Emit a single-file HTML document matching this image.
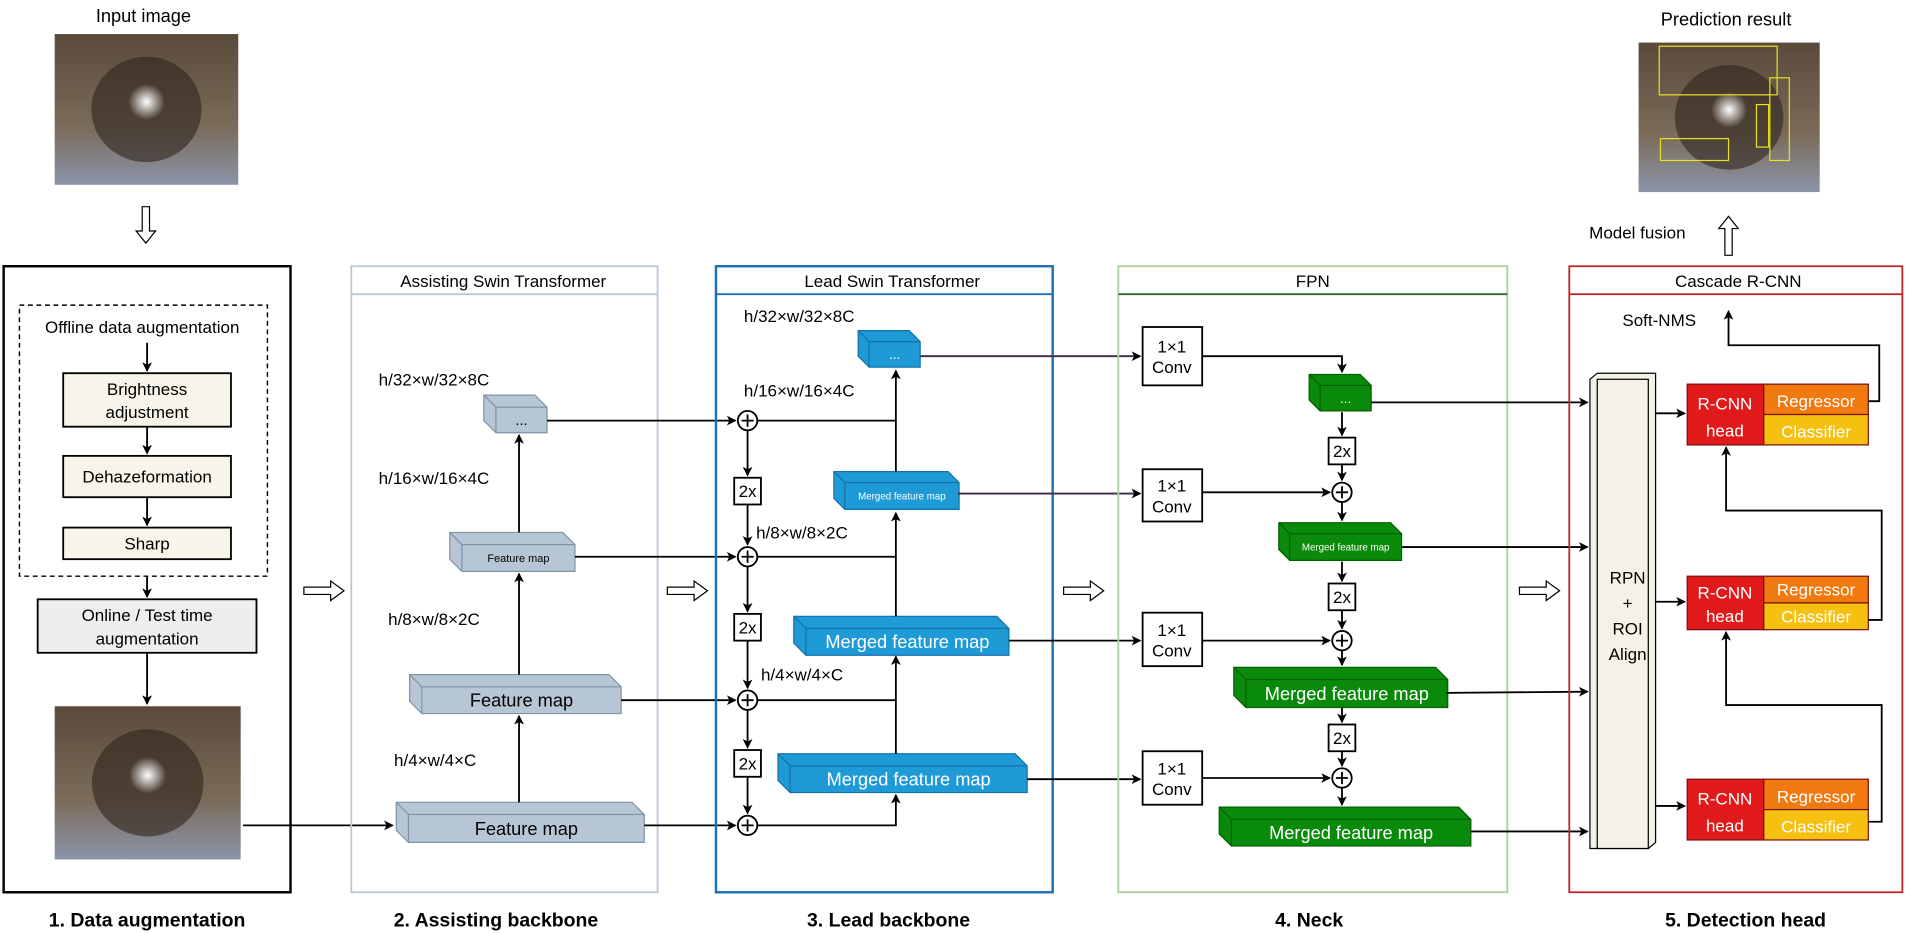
<!DOCTYPE html>
<html><head><meta charset="utf-8"><style>
html,body{margin:0;padding:0;background:#fff;overflow:hidden;}
svg{display:block;font-family:"Liberation Sans",Arial,sans-serif;}
</style></head><body>
<svg id="s" width="1906" height="933" viewBox="0 0 1568 767.5" xmlns="http://www.w3.org/2000/svg">
<defs>
<marker id="a" markerWidth="8" markerHeight="8" refX="7" refY="4" orient="auto" markerUnits="userSpaceOnUse"><path d="M0,0 L8,4 L0,8 L2,4 z" fill="#000"/></marker>
<linearGradient id="img" x1="0" y1="0" x2="0" y2="1"><stop offset="0" stop-color="#5a4a3a"/><stop offset="0.6" stop-color="#7a6a58"/><stop offset="1" stop-color="#8a94a8"/></linearGradient>
<radialGradient id="glow" cx="0.5" cy="0.5" r="0.5"><stop offset="0" stop-color="#fff"/><stop offset="1" stop-color="#fff" stop-opacity="0"/></radialGradient>
</defs>
<g id="g" fill="none" stroke="#000" stroke-width="1.5"></g>
</svg>
<script>
const g=document.getElementById('g');let h='';
const L=(pts,arrow,col)=>{h+=`<polyline points="${pts}" stroke="${col||'#000'}" ${arrow?'marker-end="url(#a)"':''}/>`;};
const T=(x,y,t,o={})=>{h+=`<text x="${x}" y="${y}" font-size="${o.s||14}" fill="${o.c||'#000'}" stroke="none" text-anchor="${o.a||'middle'}" font-weight="${o.b?'bold':'normal'}">${t}</text>`;};
const R=(x,y,w,hh,f,st,sw,da)=>{h+=`<rect x="${x}" y="${y}" width="${w}" height="${hh}" fill="${f||'none'}" stroke="${st||'#000'}" stroke-width="${sw||1.5}" ${da?'stroke-dasharray="'+da+'"':''}/>`;};
const C=(x,y)=>{h+=`<circle cx="${x}" cy="${y}" r="8" fill="#fff"/><path d="M${x-5},${y}H${x+5}M${x},${y-5}V${y+5}"/>`;};
const X2=(x,y)=>{R(x-11,y-11,22,22,'#fff');T(x,y+5,'2x',{s:14});};
const cube=(x,y,w,hh,d,f,st,txt,ts,tc)=>{
 h+=`<polygon points="${x},${y} ${x+w},${y} ${x+w+d},${y+d} ${x+w+d},${y+hh+d} ${x+d},${y+hh+d} ${x},${y+hh}" fill="${f}" stroke="${st}" stroke-width="1"/>`;
 h+=`<polyline points="${x},${y} ${x+d},${y+d} ${x+w+d},${y+d}" stroke="${st}" stroke-width="1"/><line x1="${x+d}" y1="${y+d}" x2="${x+d}" y2="${y+hh+d}" stroke="${st}" stroke-width="1"/>`;
 T(x+d+w/2,y+d+hh/2+ts*0.35,txt,{s:ts,c:tc});
};
const img=(x,y,w,hh)=>{h+=`<rect x="${x}" y="${y}" width="${w}" height="${hh}" fill="url(#img)" stroke="none"/><ellipse cx="${x+w/2}" cy="${y+hh*0.5}" rx="${w*0.3}" ry="${hh*0.35}" fill="#2e241c" stroke="none" opacity="0.6"/><ellipse cx="${x+w/2}" cy="${y+hh*0.45}" rx="${w*0.1}" ry="${hh*0.12}" fill="url(#glow)" stroke="none"/>`;};
const hollow=(x,y,dir)=>{
 if(dir=='d')h+=`<path d="M${x-3},${y} h6 v20 h5 l-8,10 l-8,-10 h5 z" fill="#fff" stroke-width="1"/>`;
 if(dir=='u')h+=`<path d="M${x-3},${y} h6 v-22 h5 l-8,-10 l-8,10 h5 z" fill="#fff" stroke-width="1"/>`;
 if(dir=='r')h+=`<path d="M${x},${y-3} v6 h22 v5 l11,-8 l-11,-8 v5 z" fill="#fff" stroke-width="1"/>`;
};
// Top images
T(118,18,'Input image',{s:15});img(45,28,151,124);hollow(120,170,'d');
T(1420,21,'Prediction result',{s:15});img(1348,35,149,123);
R(1365,38,97,40,'none','#e8e020',1);R(1456,64,16,68,'none','#e8e020',1);R(1445,86,10,35,'none','#e8e020',1);R(1366,114,56,18,'none','#e8e020',1);
hollow(1422,210,'u');T(1347,196,'Model fusion',{s:14});
// Panel 1
R(3,219,236,515,'none','#000',2);
R(16,251,204,223,'none','#000',1.2,'4,3');
T(117,274,'Offline data augmentation',{s:14});
L('121,282 121,305',1);
R(52,307,138,44,'#f7f5ea');T(121,325,'Brightness',{s:14});T(121,344,'adjustment',{s:14});
L('121,351 121,373',1);
R(52,375,138,34,'#f7f5ea');T(121,397,'Dehazeformation',{s:14});
L('121,409 121,432',1);
R(52,434,138,26,'#f7f5ea');T(121,452,'Sharp',{s:14});
L('121,474 121,491',1);
R(31,493,180,44,'#eeeeee');T(121,511,'Online / Test time',{s:14});T(121,530,'augmentation',{s:14});
L('121,537 121,579',1);
img(45,581,153,126);
L('200,679 323,679',1);
// Panel 2
R(289,219,252,515,'none','#b8c8d8',1.5);L('289,242 541,242',0,'#b8c8d8');
T(414,236,'Assisting Swin Transformer',{s:14});
T(357,317,'h/32×w/32×8C',{s:14});T(357,398,'h/16×w/16×4C',{s:14});T(357,514,'h/8×w/8×2C',{s:14});T(358,630,'h/4×w/4×C',{s:14});
const gb='#b6c6d4',gs='#7f93a6';
cube(398,325,42,21,10,gb,gs,'...',12,'#000');
cube(370,438,93,22,10,gb,gs,'Feature map',9,'#000');
cube(337,555,164,22,10,gb,gs,'Feature map',15,'#000');
cube(326,660,194,23,10,gb,gs,'Feature map',15,'#000');
L('427,660 427,589',1);L('427,555 427,472',1);L('427,438 427,358',1);
L('450,346 605,346',1);L('473,458 605,458',1);L('511,576 605,576',1);L('530,679 605,679',1);
// Panel 3
R(589,219,277,515,'none','#1f6fb5',2);L('589,242 866,242',0,'#1f6fb5');
T(734,236,'Lead Swin Transformer',{s:14});
T(612,265,'h/32×w/32×8C',{s:14,a:'start'});T(612,326,'h/16×w/16×4C',{s:14,a:'start'});T(622,443,'h/8×w/8×2C',{s:14,a:'start'});T(626,560,'h/4×w/4×C',{s:14,a:'start'});
L('615,354 615,391',1);X2(615,404);L('615,415 615,448',1);
L('615,466 615,503',1);X2(615,516);L('615,527 615,566',1);
L('615,584 615,615',1);X2(615,628);L('615,639 615,669',1);
C(615,346);C(615,458);C(615,576);C(615,679);
const bb='#1e9ad6',bs='#1570a8';
cube(706,272,42,21,9,bb,bs,'...',11,'#fff');
cube(686,388,94,22,9,bb,bs,'Merged feature map',8,'#fff');
cube(653,507,167,22,10,bb,bs,'Merged feature map',15,'#fff');
cube(640,620,195,22,10,bb,bs,'Merged feature map',15,'#fff');
L('623,679 737,679 737,654',1);L('623,576 737,576',0);L('623,458 737,458',0);L('623,346 737,346',0);
L('737,620 737,540',1);L('737,507 737,422',1);L('737,388 737,305',1);
L('757,293 938,293',1,'#3a2a4a');L('788,406 938,406',1,'#3a2a4a');L('830,527 938,527',1);L('845,641 938,641',1);
// Panel 4
R(920,219,320,515,'none','#a8d0a0',1.5);L('920,242 1240,242',0,'#2e6b2e');
T(1080,236,'FPN',{s:14});
[[269,317],[386,429],[504,548],[618,662]].forEach(([a,b])=>{R(940,a,49,b-a,'#fff');T(964,a+(b-a)/2-3,'1×1',{s:14});T(964,a+(b-a)/2+14,'Conv',{s:14});});
const gg='#0a8a0a',gsd='#056005';
L('989,293 1104,293 1104,306',1);
cube(1077,308,42,21,9,gg,gsd,'...',11,'#fff');
L('1104,339 1104,358',1);X2(1104,371);L('1104,382 1104,395',1);
L('989,405 1094,405',1);C(1104,405);L('1104,413 1104,428',1);
cube(1052,430,92,22,9,gg,gsd,'Merged feature map',8,'#fff');
L('1104,462 1104,478',1);X2(1104,491);L('1104,502 1104,517',1);
L('989,527 1094,527',1);C(1104,527);L('1104,535 1104,547',1);
cube(1015,549,166,23,10,gg,gsd,'Merged feature map',15,'#fff');
L('1104,582 1104,594',1);X2(1104,607);L('1104,618 1104,630',1);
L('989,640 1094,640',1);C(1104,640);L('1104,648 1104,662',1);
cube(1003,664,197,22,10,gg,gsd,'Merged feature map',15,'#fff');
L('1128,331 1306,331',1);L('1153,450 1306,450',1);L('1190,570 1306,569',1);L('1210,684 1306,684',1);
// Panel 5
R(1291,219,274,515,'none','#c0282c',1.5);L('1291,242 1565,242',0,'#c0282c');
T(1430,236,'Cascade R-CNN',{s:14});
T(1365,268,'Soft-NMS',{s:14});
h+=`<polygon points="1308,312 1314,307 1362,307 1362,693 1356,698 1308,698" fill="#f4f1e6" stroke="#000" stroke-width="1"/>`;
R(1314,312,42,386,'#f4f1e6','#000',1);
T(1339,480,'RPN',{s:14});T(1339,501,'+',{s:14});T(1339,522,'ROI',{s:14});T(1339,543,'Align',{s:14});
[[316,340],[474,495],[641,663]].forEach(([y,ly])=>{
 L(`1362,${ly} 1386,${ly}`,1);
 const hh=(y==474)?44:50;
 R(1388,y,63,hh,'#e01a1a','#7a1010',1);T(1419,y+hh*0.42,'R-CNN',{s:14,c:'#fff'});T(1419,y+hh*0.86,'head',{s:14,c:'#fff'});
 R(1451,y,86,hh/2,'#f07a10','#7a1010',1);T(1494,y+hh/2-6,'Regressor',{s:14,c:'#fff'});
 R(1451,y+hh/2,86,hh/2,'#f5c010','#7a1010',1);T(1494,y+hh-6,'Classifier',{s:14,c:'#fff'});
});
L('1537,330 1546,330 1546,284 1422,284 1422,256',1);
L('1537,510 1548,510 1548,420 1420,420 1420,368',1);
L('1537,676 1548,676 1548,580 1420,580 1420,520',1);
hollow(250,486,'r');hollow(549,486,'r');hollow(875,486,'r');hollow(1250,486,'r');
T(121,762,'1. Data augmentation',{s:16,b:1});T(408,762,'2. Assisting backbone',{s:16,b:1});T(731,762,'3. Lead backbone',{s:16,b:1});T(1077,762,'4. Neck',{s:16,b:1});T(1436,762,'5. Detection head',{s:16,b:1});
g.innerHTML=h;
</script>
</body></html>
